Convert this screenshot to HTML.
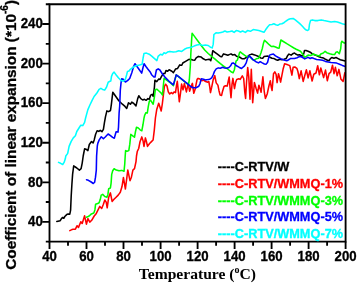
<!DOCTYPE html>
<html><head><meta charset="utf-8"><title>Coefficient of linear expansion</title>
<style>
html,body{margin:0;padding:0;background:#fff;}
body{width:357px;height:283px;overflow:hidden;}
svg{display:block;}
.a{font-family:"Liberation Sans",Arial,sans-serif;font-weight:bold;stroke-width:0.3px;}
.t{font-family:"Liberation Serif","Times New Roman",serif;font-weight:bold;}
</style></head><body>
<svg width="357" height="283" viewBox="0 0 357 283">
<rect width="357" height="283" fill="#fff"/>
<polyline fill="none" stroke="#000" stroke-width="1.55" stroke-linejoin="round" stroke-linecap="round" points="56.8,221.4 60.2,220.7 61.6,218.3 62.7,217.5 63.8,218.3 64.8,216.5 66.7,214.6 68.1,214.1 69.8,214.1 70.6,210.1 71.2,196.0 71.9,184.2 72.6,174.4 73.7,165.9 76.8,168.0 79.4,170.1 81.1,168.7 82.2,163.1 83.2,156.0 84.6,148.8 86.0,149.2 87.9,150.6 89.3,144.5 91.5,141.5 93.1,143.0 94.2,139.9 95.6,134.2 97.1,130.7 98.8,131.4 100.2,130.3 102.0,131.7 103.4,129.3 104.4,122.9 105.5,116.6 106.9,110.9 108.6,111.6 110.5,110.5 111.4,104.2 112.8,92.2 115.3,95.8 118.8,100.7 122.4,104.2 125.0,106.4 126.7,108.5 128.5,102.8 130.4,104.2 131.8,102.1 133.8,103.5 136.0,105.9 137.7,98.6 138.8,95.8 140.8,98.6 142.7,100.0 144.5,99.3 146.2,100.3 147.9,98.6 149.3,99.3 150.7,95.1 152.1,94.4 153.2,96.5 154.4,87.3 154.9,80.2 156.8,81.6 158.6,79.1 160.0,79.5 161.4,76.7 163.5,73.4 164.9,73.4 166.0,70.5 167.7,71.2 169.1,69.8 171.9,71.2 173.4,72.7 175.5,69.1 177.6,68.4 179.7,64.9 181.8,65.2 182.8,63.0 185.6,61.3 188.5,59.6 190.6,59.2 192.7,59.9 194.8,60.2 196.2,57.8 198.4,56.4 201.2,57.1 203.3,58.8 205.4,59.9 207.5,59.6 209.4,59.2 210.8,60.6 211.8,56.4 212.8,50.7 214.6,52.1 217.4,54.2 220.3,56.4 221.7,56.8 223.5,53.9 225.6,54.6 227.8,55.3 229.2,54.6 231.0,53.9 232.7,55.0 234.8,54.6 236.5,56.2 239.4,57.0 241.9,58.7 244.5,58.7 247.0,57.0 249.6,54.9 251.7,54.1 254.6,54.9 258.0,56.2 260.6,57.9 262.7,58.3 264.0,56.6 266.0,56.2 267.8,56.1 269.9,57.2 272.0,58.3 274.1,58.6 276.2,59.7 277.7,60.3 279.8,59.3 281.9,59.7 284.0,59.3 286.1,58.6 287.5,55.8 289.0,54.1 291.1,55.1 293.3,53.4 294.5,53.0 296.2,54.3 297.9,55.1 299.6,54.7 301.3,55.6 303.0,56.0 303.9,53.0 304.5,50.5 306.0,50.5 308.1,51.3 310.2,52.2 312.3,53.9 314.5,54.7 316.6,55.6 319.1,56.8 321.2,57.4 323.3,57.9 325.4,59.3 327.5,60.3 329.0,60.7 330.4,58.6 331.8,57.5 333.9,58.3 336.0,57.5 338.1,58.6 340.3,59.7 342.4,60.3 345.2,61.1"/>
<polyline fill="none" stroke="#ff0000" stroke-width="1.55" stroke-linejoin="round" stroke-linecap="round" points="69.8,230.6 71.9,229.6 73.3,229.2 75.4,229.2 77.1,225.7 78.5,227.4 80.8,221.7 82.2,223.5 84.6,215.8 86.4,224.2 87.9,218.6 89.8,222.1 91.7,220.3 94.2,216.0 96.3,213.4 98.4,209.2 99.8,206.4 101.7,208.5 103.4,204.2 104.8,200.0 106.2,202.1 107.2,207.8 108.7,197.2 110.4,192.9 112.1,201.4 114.0,199.3 116.1,197.2 118.2,195.1 120.3,192.2 122.0,186.6 123.4,177.5 125.4,189.0 127.8,170.1 130.0,180.7 131.4,177.2 132.9,170.1 134.5,168.7 136.0,161.6 136.5,156.0 137.3,151.3 138.7,148.5 140.1,141.4 141.8,136.9 143.0,140.7 144.0,146.4 145.4,137.9 146.4,141.4 147.5,146.4 149.6,143.5 151.7,141.4 153.1,140.0 154.3,130.1 155.4,118.0 156.8,109.2 158.7,103.2 160.1,107.6 161.2,111.0 162.3,104.0 163.3,95.6 164.4,86.5 165.6,84.2 167.0,86.0 168.3,91.8 169.7,94.0 171.3,92.6 172.7,93.7 174.1,91.9 175.5,92.6 176.5,85.5 177.3,81.3 178.3,91.2 179.3,101.8 180.4,94.0 181.6,84.1 183.0,89.8 184.4,83.4 185.4,87.7 186.4,91.9 188.2,83.4 189.6,91.2 191.0,86.9 192.4,83.4 193.8,93.3 195.2,89.0 196.1,84.4 197.1,79.4 198.1,78.4 199.9,79.0 201.8,80.8 203.5,80.1 205.6,81.5 207.7,82.2 208.8,81.5 209.8,87.2 210.5,92.6 211.7,87.2 213.1,80.1 214.8,75.6 216.2,82.9 217.9,85.1 219.0,90.7 220.1,95.0 221.6,95.4 222.5,91.4 224.0,86.5 225.4,85.8 227.2,86.1 228.2,81.5 229.2,77.0 230.0,87.2 231.0,97.8 232.0,84.4 232.9,78.4 233.8,84.4 234.5,88.6 235.7,82.2 236.7,79.4 238.8,78.7 240.2,79.4 242.3,75.9 243.7,78.5 244.7,91.3 245.6,98.4 246.5,82.5 247.7,67.5 248.8,77.2 250.0,99.3 251.3,69.3 252.7,102.8 254.4,82.5 256.2,88.7 257.6,93.1 258.9,85.2 260.1,88.7 261.1,92.2 262.9,76.8 264.2,91.3 265.4,98.4 267.2,94.0 268.9,86.0 270.3,80.7 271.2,86.9 272.1,90.5 273.5,73.7 274.8,71.9 276.1,74.4 277.1,82.6 278.5,73.7 279.5,77.2 280.6,82.1 281.8,75.8 283.2,68.7 284.6,63.8 287.0,64.5 289.8,65.6 290.8,70.1 291.9,75.1 293.1,67.3 294.8,67.0 296.9,68.4 297.9,71.5 299.3,78.6 301.1,70.8 302.1,75.8 303.2,81.4 304.7,75.8 306.4,69.8 308.1,77.9 309.9,70.8 312.1,81.0 313.8,74.2 316.0,73.0 317.7,65.7 319.4,74.8 320.8,68.0 322.7,74.4 323.6,77.6 325.5,70.1 327.3,80.7 329.0,73.7 330.7,72.2 332.5,65.2 334.0,73.7 335.4,67.3 337.2,75.8 338.9,69.4 341.0,79.3 343.1,81.4 344.8,72.9"/>
<polyline fill="none" stroke="#00ff00" stroke-width="1.55" stroke-linejoin="round" stroke-linecap="round" points="86.4,217.2 88.1,216.5 89.2,216.0 91.4,213.9 93.8,213.0 94.9,209.9 95.6,204.2 97.7,203.5 99.1,202.8 100.3,199.3 101.2,195.1 102.7,194.4 104.8,196.5 106.9,197.2 107.9,194.4 108.7,188.7 110.4,188.0 111.1,183.1 111.7,174.4 112.7,170.8 114.1,168.7 116.2,170.1 119.0,170.8 121.8,170.4 124.0,171.3 124.7,164.5 125.2,156.0 125.6,150.6 127.0,151.3 128.8,150.6 129.8,144.2 130.8,134.4 132.7,135.8 134.5,137.2 135.5,131.5 136.5,127.3 138.3,128.0 140.1,129.8 141.8,130.8 143.0,124.5 144.0,118.1 144.6,115.5 145.9,112.7 147.3,113.0 148.3,106.4 149.3,101.4 150.4,100.0 151.8,102.1 153.2,104.2 154.4,97.2 155.4,89.4 156.8,89.2 158.9,91.0 161.0,92.9 162.5,95.0 163.2,86.9 164.1,78.3 169.1,81.8 173.4,85.7 174.8,80.4 176.2,75.0 178.3,76.4 181.8,79.5 186.1,83.0 188.5,84.5 189.3,80.0 190.3,66.3 190.8,54.2 191.6,40.1 192.1,33.3 194.1,35.9 197.7,40.8 201.2,45.5 204.7,50.0 208.2,53.5 211.9,56.7 214.8,58.9 217.6,61.3 220.4,63.7 223.2,65.8 226.1,67.9 228.9,70.0 231.0,71.7 233.1,72.8 234.3,70.0 235.3,64.4 236.2,60.8 237.4,60.1 238.5,56.6 239.5,52.8 240.2,51.9 242.4,53.6 244.5,55.2 247.0,56.8 249.1,56.2 250.8,57.6 252.9,59.7 255.1,59.8 256.3,58.7 258.5,58.3 259.7,56.2 261.0,52.8 262.3,48.5 263.5,43.1 264.5,40.3 266.8,42.4 269.2,44.7 271.3,46.5 273.4,46.3 275.5,47.0 277.7,48.0 279.1,48.2 280.1,43.5 280.9,40.0 283.3,41.5 286.8,43.7 290.4,45.8 293.9,48.0 296.2,49.2 300.5,51.3 302.6,53.9 304.7,57.3 306.4,56.4 308.1,55.1 310.2,55.6 312.3,54.7 313.2,53.9 314.9,54.7 317.4,55.4 319.5,56.0 320.8,53.9 323.3,53.0 325.1,51.3 326.8,52.7 329.7,53.7 332.5,54.4 334.6,54.6 336.0,52.2 337.4,51.8 339.3,53.7 340.7,48.7 341.2,43.1 341.8,41.2 343.8,42.8 345.2,43.3"/>
<polyline fill="none" stroke="#0000ff" stroke-width="1.55" stroke-linejoin="round" stroke-linecap="round" points="86.5,179.8 88.4,180.3 91.2,182.0 93.3,183.5 94.6,182.3 95.5,177.2 96.3,170.1 96.6,156.0 97.3,146.0 97.8,143.4 99.2,139.9 101.3,136.8 103.4,138.8 105.5,136.8 108.1,134.0 110.5,135.7 112.6,137.4 114.3,138.2 115.4,134.2 116.1,131.7 118.0,132.1 118.5,127.2 119.1,113.1 119.7,106.0 120.3,90.1 121.0,83.1 121.7,78.8 123.3,79.2 125.4,82.0 127.5,80.6 129.7,78.5 131.8,72.8 133.6,66.5 135.0,63.7 137.0,66.5 139.5,70.0 141.7,73.1 143.1,67.2 144.1,63.7 145.9,66.5 148.0,69.3 150.0,71.7 151.6,74.7 153.9,77.0 155.0,77.0 155.7,73.5 156.4,70.0 158.2,68.9 159.9,70.0 162.1,73.5 164.9,77.1 169.1,81.3 173.4,84.8 174.8,79.9 176.2,74.9 178.3,76.4 181.8,79.2 186.1,82.7 190.3,86.2 193.1,87.7 196.0,87.7 198.8,86.2 199.9,84.0 200.6,81.3 201.4,78.8 203.5,79.2 205.6,79.9 207.7,79.6 209.8,79.2 211.7,77.8 213.1,75.0 214.5,71.4 216.2,68.9 218.3,67.9 220.4,68.3 222.5,67.2 224.7,67.9 226.8,68.3 228.9,67.5 230.6,65.8 232.0,63.2 233.1,62.9 235.3,64.4 236.0,65.5 239.0,67.2 241.5,68.5 244.5,65.9 246.2,62.9 247.4,58.7 249.1,55.7 250.8,57.4 252.9,59.6 255.9,61.7 258.5,62.9 260.2,61.7 262.3,62.9 264.4,64.0 266.0,64.2 267.5,62.5 268.5,58.6 269.6,55.1 271.3,54.4 273.4,54.1 275.5,55.8 278.4,57.5 281.2,58.9 284.0,60.0 286.8,60.7 288.2,60.0 290.4,58.6 292.0,58.5 294.5,58.5 297.1,57.7 299.6,56.4 301.3,56.8 303.0,57.7 304.7,58.9 306.4,58.1 308.1,57.3 310.2,58.5 311.9,57.7 314.0,58.5 316.6,59.4 319.1,59.8 322.6,60.3 325.4,61.4 328.2,62.1 331.1,62.6 333.9,62.8 336.7,63.1 339.5,64.2 342.4,65.4 345.2,66.4"/>
<polyline fill="none" stroke="#00ffff" stroke-width="1.55" stroke-linejoin="round" stroke-linecap="round" points="58.5,162.4 60.6,163.3 62.7,164.5 64.1,162.4 65.3,158.8 65.8,156.0 67.7,153.4 69.1,146.4 71.2,141.4 73.3,137.9 75.4,135.8 76.8,131.5 79.0,128.0 80.8,125.2 82.8,125.6 84.6,122.4 85.6,118.0 87.8,109.9 89.9,105.0 92.0,100.7 94.1,96.5 96.9,93.0 99.1,89.4 100.9,88.4 102.6,89.4 104.7,90.1 106.6,87.0 108.2,82.2 109.9,81.3 110.8,81.0 111.5,76.4 112.7,73.5 114.1,72.1 116.2,75.0 118.4,77.8 121.2,80.6 123.3,81.3 125.4,79.2 126.6,75.0 127.5,71.4 129.0,71.1 130.4,69.3 133.2,67.2 136.0,65.8 139.5,65.1 142.1,64.3 143.1,58.0 144.0,53.4 146.4,53.1 149.2,54.2 152.0,56.4 154.8,58.8 156.9,60.6 158.1,56.4 160.5,54.2 162.3,55.0 164.0,52.8 165.7,53.5 167.5,52.1 169.9,51.4 173.2,52.1 176.0,51.7 178.8,50.7 181.7,51.4 184.5,49.3 187.3,47.9 191.3,47.2 194.1,46.1 196.9,45.1 199.8,44.4 202.6,45.5 205.4,45.1 208.2,45.5 210.4,47.2 212.2,47.9 213.2,44.4 213.9,34.5 216.0,32.8 218.1,33.1 221.0,32.4 222.8,32.0 224.9,31.0 227.1,32.0 229.9,31.6 232.0,31.0 234.1,32.4 236.2,30.6 238.4,31.0 240.5,32.0 242.6,31.0 245.4,32.4 247.5,30.6 250.4,31.3 253.2,29.6 256.0,29.9 258.8,30.6 261.7,31.5 264.0,32.3 265.6,29.8 267.8,26.7 269.6,24.8 272.0,24.4 273.8,23.8 275.8,24.8 277.7,25.3 279.8,24.1 281.9,23.8 284.0,22.7 286.1,21.0 288.2,19.6 290.4,18.8 293.2,18.5 295.3,19.9 297.4,21.6 299.5,23.4 301.7,25.5 304.0,28.1 305.7,29.8 307.6,30.5 308.8,29.6 309.5,24.1 310.5,20.6 312.4,19.9 314.8,20.6 317.7,20.6 321.2,19.9 324.0,20.6 327.5,21.3 331.1,22.0 334.6,21.6 337.4,22.0 340.3,23.0 343.1,24.1 345.2,24.4"/>
<g stroke="#000" stroke-width="1.85" fill="none" stroke-linecap="butt">
<path d="M49.5 4.2 H345.6 V241.6 H49.5 Z"/>
<path d="M49.5 241.6 v7.3 M68.0 241.6 v4.2 M86.5 241.6 v7.3 M105.0 241.6 v4.2 M123.5 241.6 v7.3 M142.0 241.6 v4.2 M160.6 241.6 v7.3 M179.1 241.6 v4.2 M197.6 241.6 v7.3 M216.1 241.6 v4.2 M234.6 241.6 v7.3 M253.1 241.6 v4.2 M271.6 241.6 v7.3 M290.1 241.6 v4.2 M308.6 241.6 v7.3 M327.1 241.6 v4.2 M345.6 241.6 v7.3 M49.5 241.6 h-3.7 M49.5 221.8 h-7.2 M49.5 202.0 h-3.7 M49.5 182.3 h-7.2 M49.5 162.5 h-3.7 M49.5 142.7 h-7.2 M49.5 122.9 h-3.7 M49.5 103.1 h-7.2 M49.5 83.4 h-3.7 M49.5 63.6 h-7.2 M49.5 43.8 h-3.7 M49.5 24.0 h-7.2 M49.5 4.2 h-3.7"/>
</g>
<g class="a" font-size="12.8" fill="#000" stroke="#000">
<text transform="translate(49.5 261.3) scale(1 1.08)" text-anchor="middle" font-size="13.2">40</text>
<text transform="translate(86.5 261.3) scale(1 1.08)" text-anchor="middle" font-size="13.2">60</text>
<text transform="translate(123.5 261.3) scale(1 1.08)" text-anchor="middle" font-size="13.2">80</text>
<text transform="translate(160.6 261.3) scale(1 1.08)" text-anchor="middle" font-size="13.2">100</text>
<text transform="translate(197.6 261.3) scale(1 1.08)" text-anchor="middle" font-size="13.2">120</text>
<text transform="translate(234.6 261.3) scale(1 1.08)" text-anchor="middle" font-size="13.2">140</text>
<text transform="translate(271.6 261.3) scale(1 1.08)" text-anchor="middle" font-size="13.2">160</text>
<text transform="translate(308.6 261.3) scale(1 1.08)" text-anchor="middle" font-size="13.2">180</text>
<text transform="translate(345.6 261.3) scale(1 1.08)" text-anchor="middle" font-size="13.2">200</text>
<text transform="translate(42.8 226.0) scale(1 1.04)" text-anchor="end" font-size="13.3">40</text>
<text transform="translate(42.8 186.5) scale(1 1.04)" text-anchor="end" font-size="13.3">80</text>
<text transform="translate(42.8 146.9) scale(1 1.04)" text-anchor="end" font-size="13.3">120</text>
<text transform="translate(42.8 107.3) scale(1 1.04)" text-anchor="end" font-size="13.3">160</text>
<text transform="translate(42.8 67.8) scale(1 1.04)" text-anchor="end" font-size="13.3">200</text>
<text transform="translate(42.8 28.2) scale(1 1.04)" text-anchor="end" font-size="13.3">240</text>
</g>
<text class="t" font-size="15.6" x="197.4" y="279" text-anchor="middle">Temperature (<tspan font-size="10" dy="-6">o</tspan><tspan dy="6">C)</tspan></text>
<text class="a" stroke="#000" font-size="15.35" transform="translate(16.1 134.9) rotate(-90)" text-anchor="middle">Coefficient of linear expansion (*10<tspan font-size="10" dy="-8">-6</tspan><tspan dy="8">)</tspan></text>
<g class="a" font-size="12.75">
<text transform="translate(217.8 171.4) scale(1 1.05)" fill="#000" stroke="#000">----C-RTV/W</text>
<text transform="translate(217.8 188.0) scale(1 1.05)" fill="#ff0000" stroke="#ff0000">----C-RTV/WMMQ-1%</text>
<text transform="translate(217.8 204.7) scale(1 1.05)" fill="#00ff00" stroke="#00ff00">----C-RTV/WMMQ-3%</text>
<text transform="translate(217.8 221.3) scale(1 1.05)" fill="#0000ff" stroke="#0000ff">----C-RTV/WMMQ-5%</text>
<text transform="translate(217.8 237.9) scale(1 1.05)" fill="#00ffff" stroke="#00ffff">----C-RTV/WMMQ-7%</text>
</g>
</svg>
</body></html>
